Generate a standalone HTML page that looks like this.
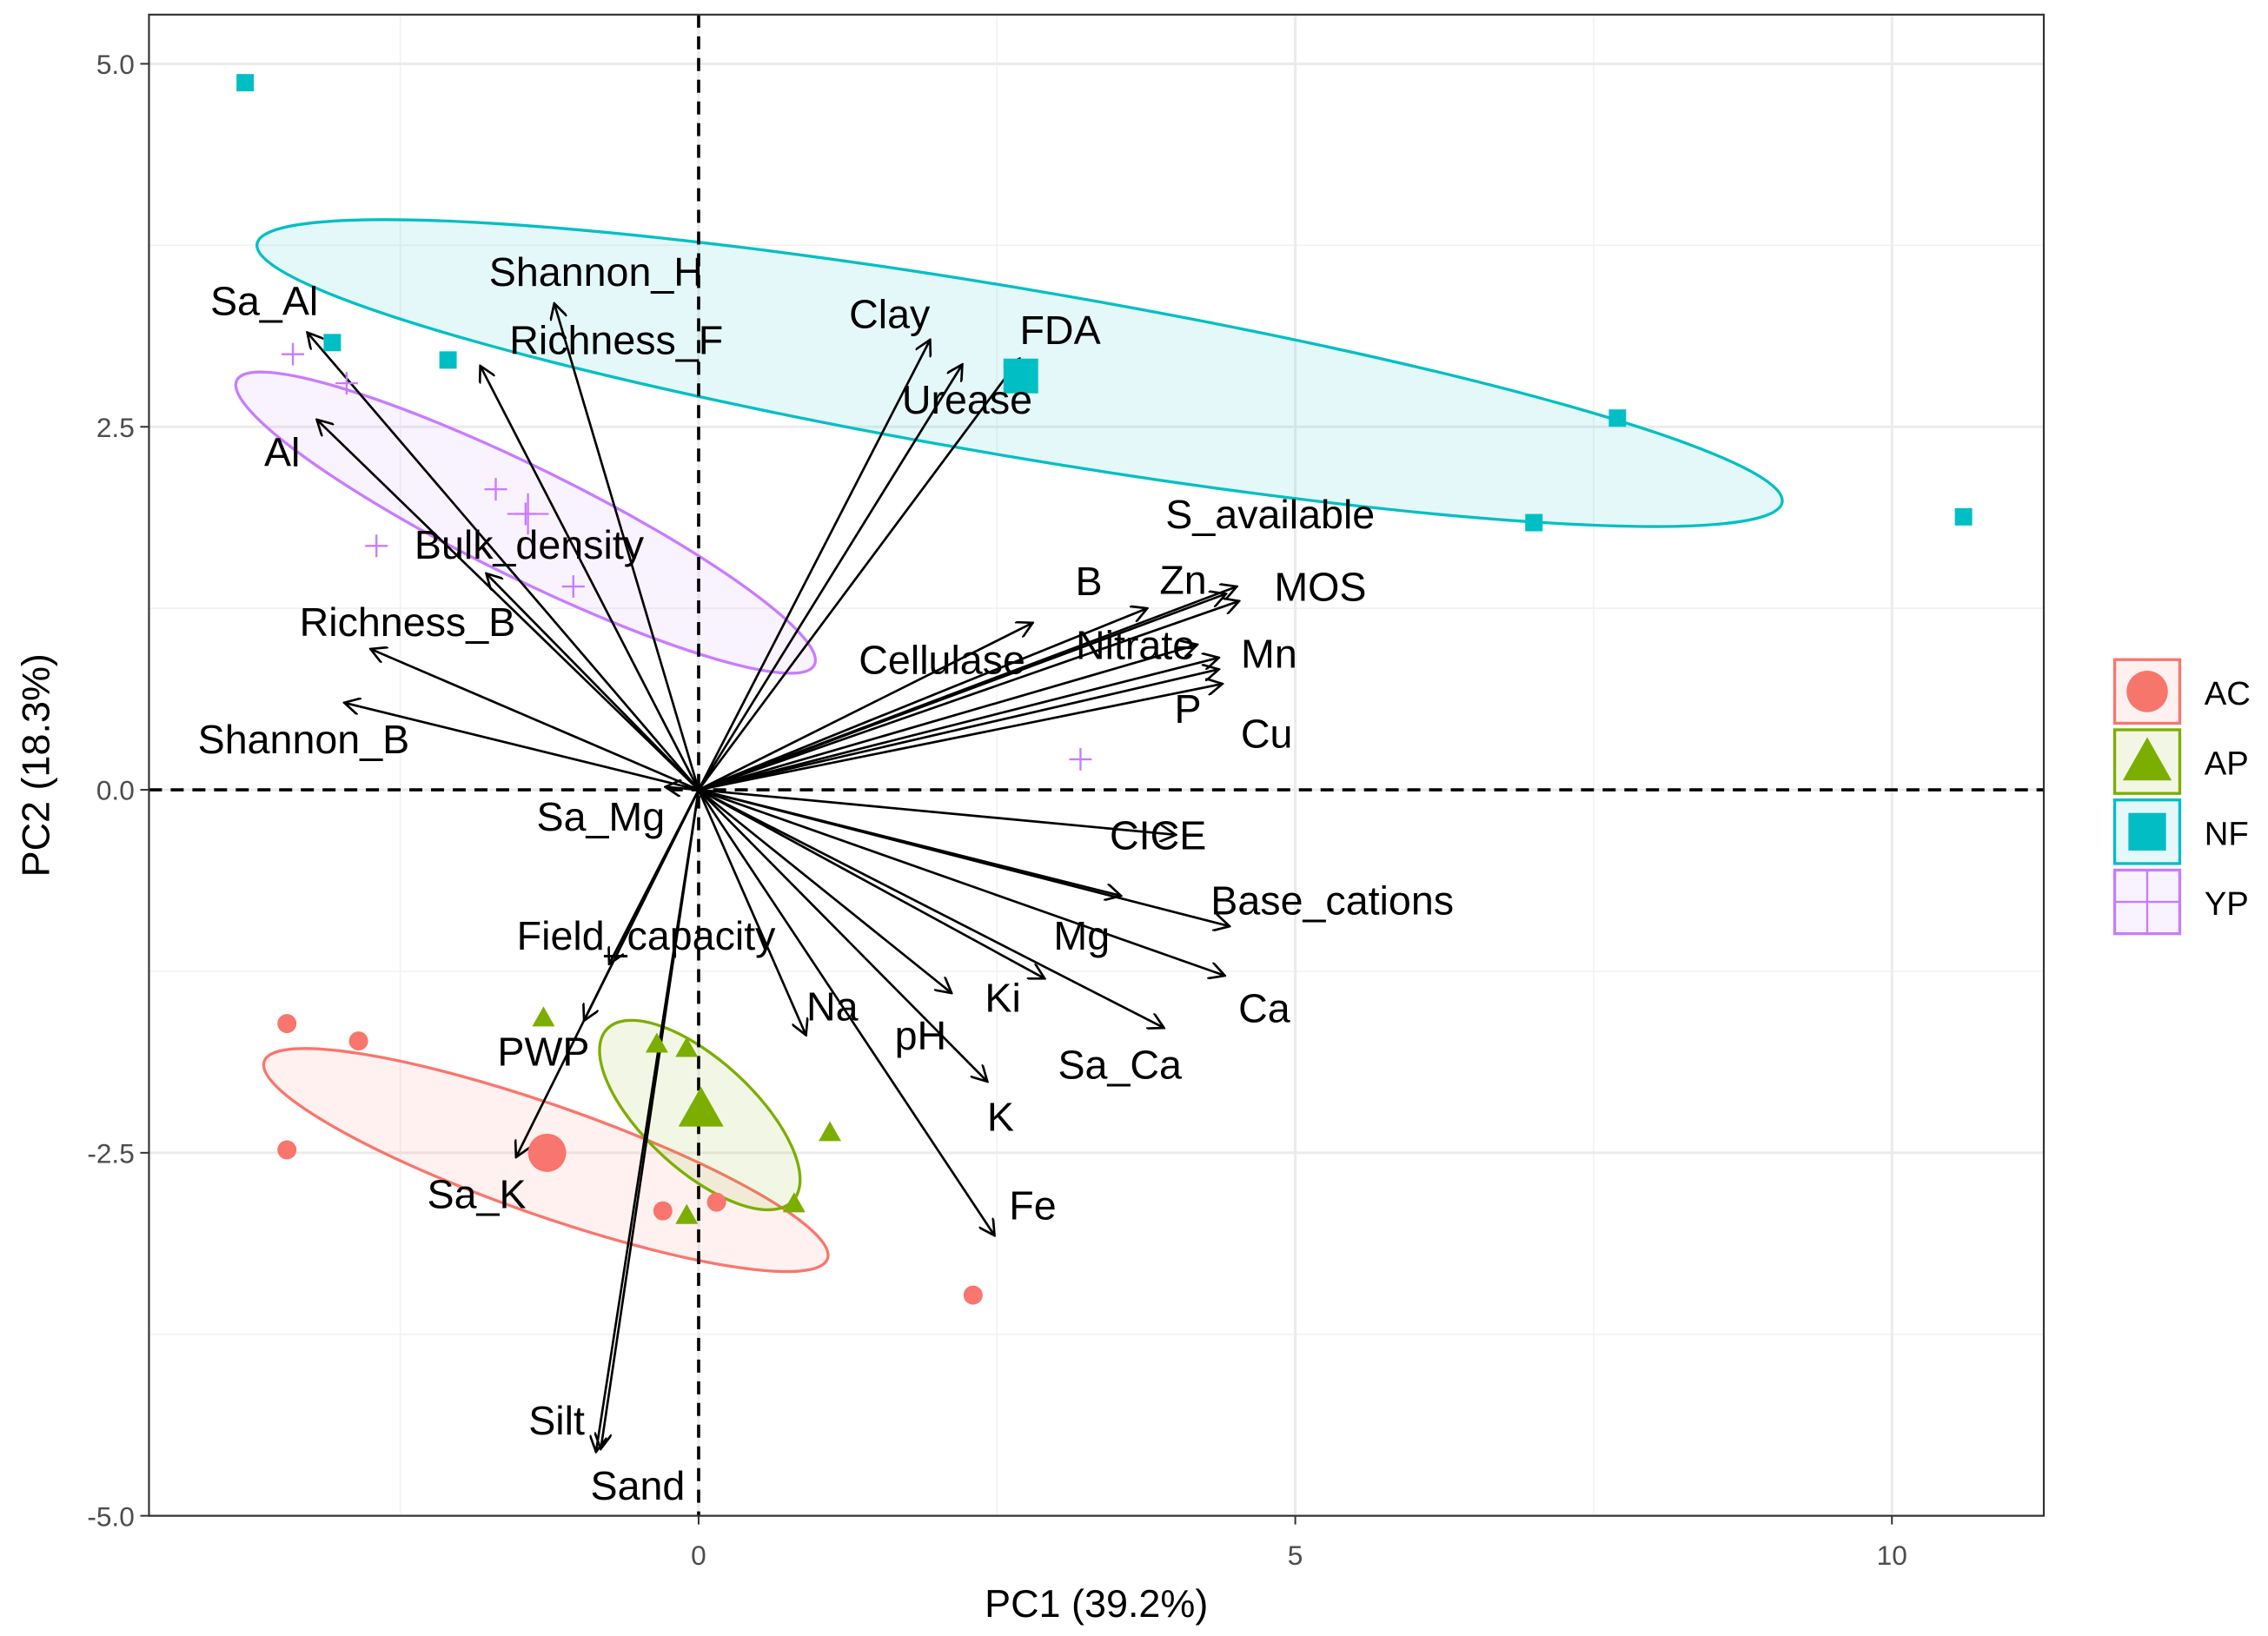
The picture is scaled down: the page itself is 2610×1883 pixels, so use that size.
<!DOCTYPE html>
<html><head><meta charset="utf-8"><style>
html,body{margin:0;padding:0;background:#fff;}
svg{display:block;font-family:"Liberation Sans",Arial,sans-serif;}
</style></head><body>
<svg id="chart" width="2610" height="1883" viewBox="0 0 1568 1131" xmlns="http://www.w3.org/2000/svg">
<defs>
<marker id="ah" viewBox="0 0 12 12" refX="11" refY="6" markerWidth="12" markerHeight="12" markerUnits="userSpaceOnUse" orient="auto">
<path d="M0,0 L11,6 L0,12" fill="none" stroke="#000" stroke-width="1.6"/>
</marker>
</defs>
<rect x="103" y="10" width="1310" height="1038" fill="#fff" stroke="none"/>
<g id="grid"></g>
<g id="ellipses"></g>
<g id="refs"></g>
<g id="arrows"></g>
<g id="points"></g>
<g id="labels"></g>
<rect x="103" y="10" width="1310" height="1038" fill="none" stroke="#333" stroke-width="1.3"/>
<g id="ticks"></g>
<text x="758" y="1118" font-size="27" text-anchor="middle" fill="#000">PC1 (39.2%)</text>
<text x="0" y="0" font-size="27" text-anchor="middle" fill="#000" transform="translate(34,529) rotate(-90)">PC2 (18.3%)</text>
<g id="legend"></g>
</svg>
<script>
// ---- data ----
const xTicks=[0,5,10];
const yTicks=[-5,-2.5,0,2.5,5];
const yTickLabels=["-5.0","-2.5","0.0","2.5","5.0"];
const xMinor=[-2.5,2.5,7.5];
const yMinor=[-3.75,-1.25,1.25,3.75];
const groups=["AC","AP","NF","YP"];
const colors=["#F8766D","#7CAE00","#00BFC4","#C77CFF"];
const acX=[-3.45,-2.85,-3.45,-0.3,0.15,2.3];
const acY=[-1.61,-1.73,-2.48,-2.9,-2.84,-3.48];
const apX=[-1.3,-0.35,-0.1,1.1,0.8,-0.1];
const apY=[-1.57,-1.75,-1.78,-2.36,-2.85,-2.93];
const nfX=[-3.8,-3.07,-2.1,7.0,7.7,10.6];
const nfY=[4.87,3.08,2.96,1.84,2.56,1.88];
const ypX=[-3.4,-2.95,-1.7,-1.45,-2.7,-1.05,3.2];
const ypY=[3.0,2.8,2.07,1.9,1.68,1.4,0.21];
const centX=[-1.27,0.02,2.7,-1.43];
const centY=[-2.5,-2.2,2.85,1.9];
const ellCX=[-1.28,0.01,2.69,-1.45];
const ellCY=[-2.55,-2.24,2.87,1.84];
const ellEX=[1.08,0.79,9.08,0.97];
const ellEY=[-3.23,-2.83,1.98,0.86];
const ellMinor=[38,38,58,38];
const varNames=["Sa_Al","Shannon_H","Richness_F","Al","Bulk_density","Richness_B","Shannon_B","Sa_Mg","Clay","FDA","Urease","S_available","B","Zn","MOS","Cellulase","Nitrate","Mn","P","Cu","CICE","Base_cations","Mg","Ca","Ki","Na","pH","Sa_Ca","K","Fe","Field_capacity","PWP","Sa_K","Silt","Sand"];
const varX=[-3.28,-1.21,-1.83,-3.20,-1.78,-2.75,-2.97,-0.28,1.94,2.69,2.21,4.51,3.76,4.42,4.53,2.80,4.18,4.36,4.39,4.36,4.0,4.45,3.54,4.41,2.90,0.90,2.12,3.90,2.42,2.48,-0.75,-0.96,-1.53,-0.82,-0.86];
const varY=[3.15,3.35,2.92,2.55,1.49,0.97,0.60,0.02,3.10,2.97,2.93,1.40,1.25,1.35,1.30,1.15,1.00,0.91,0.73,0.83,-0.31,-0.94,-0.73,-1.28,-1.30,-1.69,-1.40,-1.64,-2.01,-3.07,-1.20,-1.59,-2.53,-4.54,-4.56];
const labX=[-3.64,-0.86,-0.69,-3.49,-1.42,-2.44,-3.31,-0.82,1.60,3.03,2.25,4.79,3.27,4.06,5.21,2.04,3.66,4.78,4.10,4.76,3.85,5.31,3.21,4.74,2.55,1.12,1.86,3.53,2.53,2.80,-0.44,-1.30,-1.86,-1.19,-0.51];
const labY=[3.37,3.57,3.10,2.33,1.69,1.16,0.35,-0.18,3.28,3.17,2.69,1.90,1.44,1.45,1.40,0.90,1.00,0.94,0.56,0.39,-0.31,-0.76,-1.0,-1.50,-1.43,-1.49,-1.69,-1.89,-2.25,-2.86,-1.0,-1.80,-2.78,-4.34,-4.79];

// ---- scales ----
const X0=483, XS=82.5, Y0=546, YS=100.4;
const sx=v=>X0+v*XS, sy=v=>Y0-v*YS;
const NS="http://www.w3.org/2000/svg";
function mk(tag,parent,attrs){const e=document.createElementNS(NS,tag);for(const k in attrs)e.setAttribute(k,attrs[k]);document.getElementById(parent).appendChild(e);return e;}

// grid
xMinor.forEach(v=>{const l=mk('line','grid',{x1:sx(v),x2:sx(v),y1:10,y2:1048,stroke:'#f2f2f2','stroke-width':1});

});
yMinor.forEach(v=>{const l=mk('line','grid',{x1:103,x2:1413,y1:sy(v),y2:sy(v),stroke:'#f2f2f2','stroke-width':1});

});
xTicks.forEach(v=>{const l=mk('line','grid',{x1:sx(v),x2:sx(v),y1:10,y2:1048,stroke:'#ebebeb','stroke-width':1.8});


const t=mk('line','ticks',{x1:sx(v),x2:sx(v),y1:1048,y2:1054,stroke:'#333','stroke-width':1.2});


const tx=mk('text','ticks',{x:sx(v),y:1082,'font-size':19,'text-anchor':'middle',fill:'#4d4d4d'});tx.textContent=v;

});
yTicks.forEach((v,i)=>{const l=mk('line','grid',{x1:103,x2:1413,y1:sy(v),y2:sy(v),stroke:'#ebebeb','stroke-width':1.8});


const t=mk('line','ticks',{x1:97,x2:103,y1:sy(v),y2:sy(v),stroke:'#333','stroke-width':1.2});


const tx=mk('text','ticks',{x:93,y:sy(v)+7,'font-size':19,'text-anchor':'end',fill:'#4d4d4d'});tx.textContent=yTickLabels[i];

});

// ellipses
groups.forEach((g,i)=>{const cx=sx(ellCX[i]),cy=sy(ellCY[i]),ex=sx(ellEX[i]),ey=sy(ellEY[i]);
const rx=Math.hypot(ex-cx,ey-cy),ang=Math.atan2(ey-cy,ex-cx)*180/Math.PI;
const e=mk('ellipse','ellipses',{cx:cx,cy:cy,rx:rx,ry:ellMinor[i],transform:`rotate(${ang} ${cx} ${cy})`,fill:colors[i],'fill-opacity':0.1,stroke:colors[i],'stroke-width':2});

});

// reference lines
const h=mk('line','refs',{x1:103,x2:1413,y1:sy(0),y2:sy(0),stroke:'#000','stroke-width':2.2,'stroke-dasharray':'9,6'});


const v0=mk('line','refs',{x1:sx(0),x2:sx(0),y1:10,y2:1048,stroke:'#000','stroke-width':2.2,'stroke-dasharray':'9,6'});



// arrows and labels
varNames.forEach((n,i)=>{const a=mk('line','arrows',{x1:sx(0),y1:sy(0),x2:sx(varX[i]),y2:sy(varY[i]),stroke:'#000','stroke-width':1.6,'marker-end':'url(#ah)'});


const t=mk('text','labels',{x:sx(labX[i]),y:sy(labY[i])+10,'font-size':28,'text-anchor':'middle',fill:'#000'});t.textContent=n;

});

// points
function shape(g,x,y,c,s){
 let e;
 if(g==='AC') e=mk('circle','points',{cx:x,cy:y,r:s*0.55,fill:c});
 else if(g==='AP') e=mk('polygon','points',{points:`${x},${y-s*0.65} ${x-s*0.65},${y+s*0.5} ${x+s*0.65},${y+s*0.5}`,fill:c});
 else if(g==='NF') e=mk('rect','points',{x:x-s*0.5,y:y-s*0.5,width:s,height:s,fill:c});
 else e=mk('path','points',{d:`M${x-s*0.65},${y}H${x+s*0.65}M${x},${y-s*0.65}V${y+s*0.65}`,stroke:c,'stroke-width':1.4,fill:'none'});
 return e;}
const allX=[acX,apX,nfX,ypX],allY=[acY,apY,nfY,ypY];
groups.forEach((g,i)=>{allX[i].forEach((xv,j)=>{const e=shape(g,sx(xv),sy(allY[i][j]),colors[i],12);

});
const c=shape(g,sx(centX[i]),sy(centY[i]),colors[i],g==='YP'?22:24);

});

// legend
groups.forEach((g,i)=>{const y=456+i*48.5;
const b=mk('rect','legend',{x:1462,y:y,width:45,height:44,fill:colors[i],'fill-opacity':0.1,stroke:colors[i],'stroke-width':2});


const s=shape(g,1484.5,y+22,colors[i],g==='YP'?34:26);


const t=mk('text','legend',{x:1524,y:y+31,'font-size':23,fill:'#000'});t.textContent=g;

});
</script>
</body></html>
